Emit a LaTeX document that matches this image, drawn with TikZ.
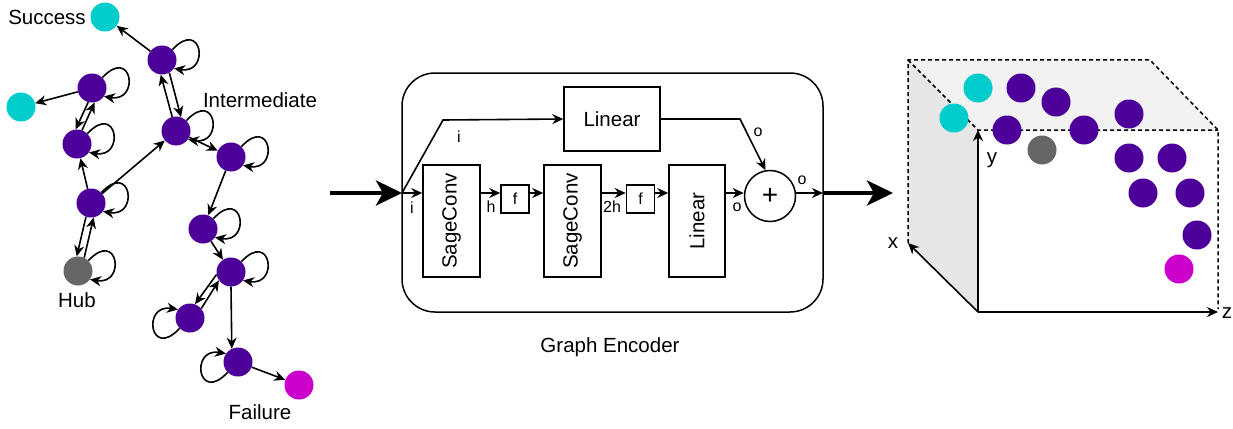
\documentclass[tikz,border=0pt]{standalone}
\usepackage{fontspec}
\setmainfont{Liberation Sans}
\usepackage{graphicx}
\usetikzlibrary{arrows.meta,calc}
\definecolor{gpurple}{HTML}{4C0099}
\definecolor{gcyan}{HTML}{00CCCC}
\definecolor{ggray}{HTML}{666666}
\definecolor{gmag}{HTML}{CC00CC}
\definecolor{topface}{HTML}{F2F2F2}
\definecolor{sideface}{HTML}{E6E6E6}
\newcommand\rloop[1]{\draw[arr] (#1.45) .. controls +(30,-32) and +(36,6) .. (#1.-35);}
\newcommand\lloop[1]{\draw[arr] (#1.225) .. controls +(-30,32) and +(-36,-6) .. (#1.145);}
\begin{document}
\begin{tikzpicture}[x=1pt,y=-1pt,
  every node/.style={font=\fontsize{20.5pt}{24pt}\selectfont},
  gnode/.style={circle,minimum size=29pt,inner sep=0pt},
  arr/.style={draw,line width=1.6pt,-{Stealth[length=11pt,width=10pt,inset=3.5pt]}},
  big/.style={draw,line width=4.5pt,-{Stealth[length=26pt,width=25pt,inset=7pt]}},
  box/.style={draw,line width=1.5pt,inner sep=0pt},
  small/.style={font=\fontsize{16pt}{18pt}\selectfont,inner sep=0pt},
  dsh/.style={draw,line width=1.5pt,dash pattern=on 4pt off 3pt},
]
\useasboundingbox (0,0) rectangle (1233,428);

% ---------------- graph ----------------
\node[gnode,fill=gcyan] (succ) at (105,17) {};
\node[gnode,fill=gpurple] (A) at (162,60) {};
\node[gnode,fill=gpurple] (B) at (92,88) {};
\node[gnode,fill=gcyan] (cl) at (21,107) {};
\node[gnode,fill=gpurple] (C) at (77,144) {};
\node[gnode,fill=gpurple] (D) at (176,131) {};
\node[gnode,fill=gpurple] (E) at (231,157) {};
\node[gnode,fill=gpurple] (F) at (91,203) {};
\node[gnode,fill=ggray] (hub) at (78,271) {};
\node[gnode,fill=gpurple] (G) at (203,229) {};
\node[gnode,fill=gpurple] (H) at (231,272) {};
\node[gnode,fill=gpurple] (I) at (190,318) {};
\node[gnode,fill=gpurple] (J) at (238,362) {};
\node[gnode,fill=gmag] (fail) at (299,385) {};

\node (tsucc) at (47,17) {Success};
\node (tint) at (260,100) {Intermediate};
\node (thub) at (77,300) {Hub};
\node (tfail) at (260,412) {Failure};

\draw[arr] (A) -- (succ);
\draw[arr] (B) -- (cl);
\draw[arr] (A.-60) -- (D.70);
\draw[arr] (D.105) -- (A.-95);
\draw[arr] (B.-105) -- (C.95);
\draw[arr] (C.70) -- (B.-80);
\draw[arr] (F) -- (C);
\draw[arr] (F) -- (D);
\draw[arr] (F.-110) -- (hub.95);
\draw[arr] (hub.65) -- (F.-80);
\draw[arr] (D) -- (E);
\draw[arr] (E) -- (G);
\draw[arr] (G) -- (H);
\draw[arr] (H.190) -- (I.70);
\draw[arr] (I.40) -- (H.215);
\draw[arr] (H.south) -- (J.115);
\draw[arr] (J) -- (fail);
\rloop{A}\rloop{B}\rloop{C}\rloop{D}\rloop{E}\rloop{F}\rloop{hub}\rloop{G}\rloop{H}
\lloop{I}\lloop{J}

% ---------------- encoder ----------------
\node[draw,line width=1.5pt,rounded corners=33pt,minimum width=421pt,minimum height=239pt] (frame) at (612.5,192.5) {};
\node[box,minimum width=96pt,minimum height=64pt] (lin1) at (612,119) {Linear};
\node[box,minimum width=57pt,minimum height=112pt] (sc1) at (451.5,221) {\rotatebox{90}{SageConv}};
\node[box,minimum size=28pt,font=\fontsize{16pt}{18pt}\selectfont] (f1) at (515,199) {f};
\node[box,minimum width=57pt,minimum height=112pt] (sc2) at (572.5,221) {\rotatebox{90}{SageConv}};
\node[box,minimum size=28pt,font=\fontsize{16pt}{18pt}\selectfont] (f2) at (640.5,199) {f};
\node[box,minimum width=56pt,minimum height=112pt] (lin2) at (697,221) {\rotatebox{90}{Linear}};
\node[draw,line width=1.5pt,circle,minimum size=51pt,inner sep=0pt,font=\fontsize{28pt}{30pt}\selectfont] (plus) at (770,196) {+};

\coordinate (in) at (402,193);
\coordinate (out) at (823,193);
\coordinate (gin) at (330,193);
\coordinate (gout) at (893,193);
\coordinate (sk1) at (443,120);
\coordinate (sk2) at (740,119);

\draw[arr] (in) -- (in -| sc1.west);
\draw[arr] (in -| sc1.east) -- (in -| f1.west);
\draw[arr] (in -| f1.east) -- (in -| sc2.west);
\draw[arr] (in -| sc2.east) -- (in -| f2.west);
\draw[arr] (in -| f2.east) -- (in -| lin2.west);
\draw[arr] (in -| lin2.east) -- (in -| plus.west);
\draw[arr] (in -| plus.east) -- (out);
\draw[arr] (in) -- (sk1) -- (lin1.west);
\draw[arr] (lin1.east) -- (sk2) -- (plus.100);
\draw[big] (gin) -- (in);
\draw[big] (out) -- (gout);

\node[small] (li1) at (459,137) {i};
\node[small] (li2) at (412,208) {i};
\node[small] (lh) at (491,207) {h};
\node[small] (l2h) at (612,207) {2h};
\node[small] (lo1) at (737,207) {o};
\node[small] (lo2) at (758,132) {o};
\node[small] (lo3) at (802,180) {o};
\node (tenc) at (610,347) {Graph Encoder};

% ---------------- cube ----------------
\coordinate (tl) at (908,60);
\coordinate (tr) at (1150,60);
\coordinate (ftl) at (978,130);
\coordinate (ftr) at (1218,130);
\coordinate (fbl) at (978,312);
\coordinate (fbr) at (1218,312);
\coordinate (bbl) at (908,243);
\fill[topface] (tl) -- (tr) -- (ftr) -- (ftl) -- cycle;
\fill[sideface] (tl) -- (ftl) -- (fbl) -- (bbl) -- cycle;
\draw[dsh] (bbl) -- (tl) -- (tr) -- (ftr) -- (1218,309);
\draw[dsh] (tl) -- (ftl) -- (ftr);
\draw[arr] (fbl) -- (ftl);
\draw[arr] (fbl) -- (bbl);
\draw[arr] (fbl) -- (fbr);
\node (tx) at (893,243) {x};
\node (ty) at (992,160) {y};
\node (tz) at (1227,313) {z};

\node[gnode,fill=gcyan] (p1) at (978,88) {};
\node[gnode,fill=gcyan] (p2) at (954,118) {};
\node[gnode,fill=gpurple] (p3) at (1021,88) {};
\node[gnode,fill=gpurple] (p4) at (1056,102) {};
\node[gnode,fill=gpurple] (p5) at (1129,114) {};
\node[gnode,fill=gpurple] (p6) at (1007,130) {};
\node[gnode,fill=gpurple] (p7) at (1084,130) {};
\node[gnode,fill=ggray] (p8) at (1042,150) {};
\node[gnode,fill=gpurple] (p9) at (1129,158) {};
\node[gnode,fill=gpurple] (p10) at (1172,158) {};
\node[gnode,fill=gpurple] (p11) at (1143,193) {};
\node[gnode,fill=gpurple] (p12) at (1190,193) {};
\node[gnode,fill=gpurple] (p13) at (1197,235) {};
\node[gnode,fill=gmag] (p14) at (1179,269) {};
\end{tikzpicture}
\end{document}
